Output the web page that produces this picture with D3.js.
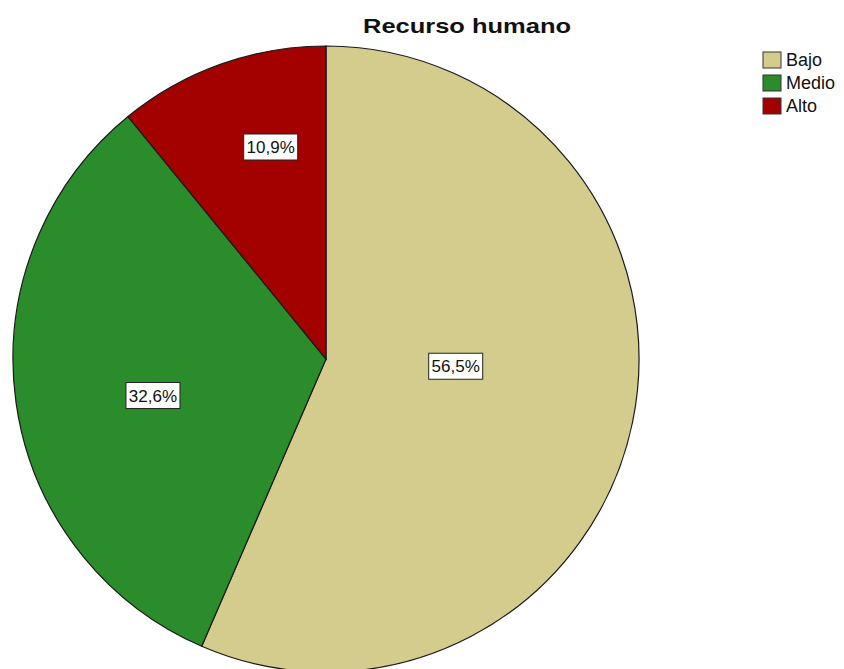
<!DOCTYPE html>
<html>
<head>
<meta charset="utf-8">
<script src="https://cdn.jsdelivr.net/npm/d3@7"></script>
<style>
  html, body { margin: 0; padding: 0; background: #fff; }
  svg { display: block; }
</style>
</head>
<body>
<svg id="chart" width="844" height="669"></svg>
<script>
// Category data
const categories = ["Bajo", "Medio", "Alto"];
const percentages = [56.5, 32.6, 10.9];
const colors = ["#d3cc8d", "#2b8c2b", "#a30000"];
const title = "Recurso humano";

// Label placement: radius fraction and angular nudge (degrees) per slice
const labelRadiusFrac = [0.415, 0.565, 0.70];
const labelAngleNudge = [-8.5, -4, 5];

const W = 844, H = 669;
const cx = 326, cy = 359, R = 313;
const font = "'Liberation Sans', Arial, sans-serif";

const svg = d3.select("#chart");

const data = categories.map((c, i) => ({ cat: c, value: percentages[i], color: colors[i], idx: i }));

const pie = d3.pie().value(d => d.value).sort(null);
const arc = d3.arc().innerRadius(0).outerRadius(R);
const arcs = pie(data);

const g = svg.append("g").attr("transform", `translate(${cx},${cy})`);

g.selectAll("path.slice")
  .data(arcs)
  .join("path")
  .attr("class", "slice")
  .attr("d", arc)
  .attr("fill", d => d.data.color)
  .attr("stroke", "#1a1a1a")
  .attr("stroke-width", 1.2);

// Percentage labels in white boxes
const fmt = v => v.toFixed(1).replace(".", ",") + "%";
const labels = g.selectAll("g.lbl")
  .data(arcs)
  .join("g")
  .attr("class", "lbl")
  .attr("transform", d => {
    const i = d.data.idx;
    const a = (d.startAngle + d.endAngle) / 2 + labelAngleNudge[i] * Math.PI / 180;
    const r = R * labelRadiusFrac[i];
    return `translate(${r * Math.sin(a)},${-r * Math.cos(a)})`;
  });

labels.append("rect")
  .attr("x", -27).attr("y", -13)
  .attr("width", 54).attr("height", 26)
  .attr("fill", "#fff")
  .attr("stroke", "#222")
  .attr("stroke-width", 1);

labels.append("text")
  .attr("text-anchor", "middle")
  .attr("dy", "0.36em")
  .attr("font-family", font)
  .attr("font-size", 17)
  .attr("fill", "#111")
  .text(d => fmt(d.data.value));

// Title
svg.append("text")
  .attr("x", 467).attr("y", 33)
  .attr("text-anchor", "middle")
  .attr("font-family", font)
  .attr("font-weight", "bold")
  .attr("font-size", 21)
  .attr("textLength", 208)
  .attr("lengthAdjust", "spacingAndGlyphs")
  .attr("fill", "#111")
  .text(title);

// Legend
const legend = svg.append("g").attr("transform", "translate(763,52)");
const items = legend.selectAll("g.item")
  .data(data)
  .join("g")
  .attr("class", "item")
  .attr("transform", (d, i) => `translate(0,${i * 23})`);

items.append("rect")
  .attr("width", 18).attr("height", 16)
  .attr("fill", d => d.color)
  .attr("stroke", "#333")
  .attr("stroke-width", 1);

items.append("text")
  .attr("x", 23).attr("y", 8)
  .attr("dy", "0.36em")
  .attr("font-family", font)
  .attr("font-size", 18)
  .attr("fill", "#111")
  .text(d => d.cat);
</script>
</body>
</html>
